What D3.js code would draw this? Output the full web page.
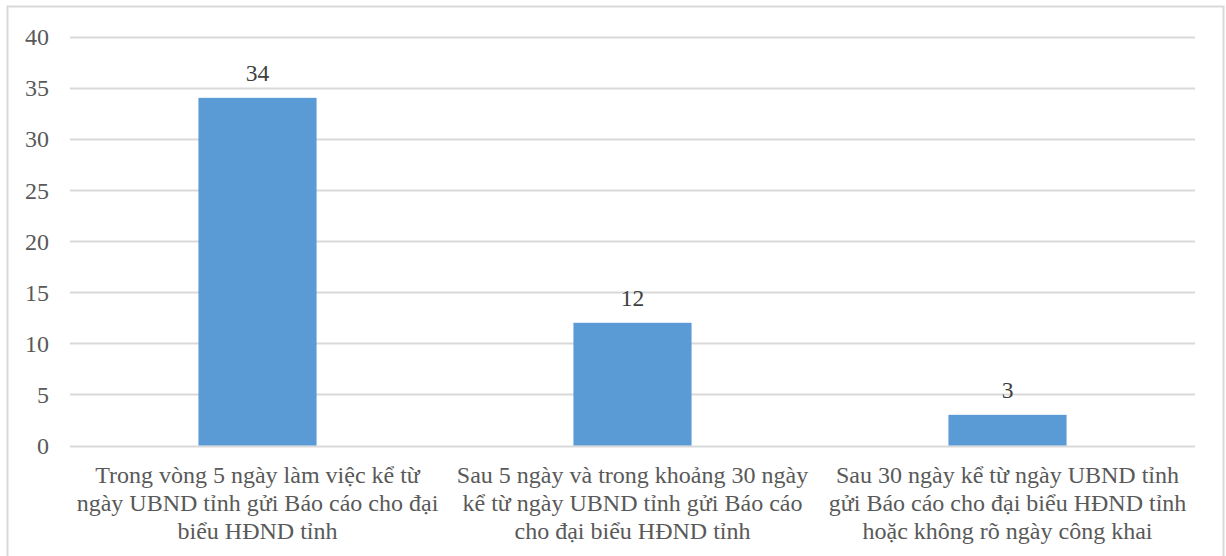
<!DOCTYPE html>
<html><head><meta charset="utf-8">
<script src="https://cdn.jsdelivr.net/npm/d3@7"></script>
<style>body{margin:0;background:#fff}svg{display:block}</style>
</head><body>
<script>
const categories = [
  ["Trong vòng 5 ngày làm việc kể từ", "ngày UBND tỉnh gửi Báo cáo cho đại", "biểu HĐND tỉnh"],
  ["Sau 5 ngày và trong khoảng 30 ngày", "kể từ ngày UBND tỉnh gửi Báo cáo", "cho đại biểu HĐND tỉnh"],
  ["Sau 30 ngày kể từ ngày UBND tỉnh", "gửi Báo cáo cho đại biểu HĐND tỉnh", "hoặc không rõ ngày công khai"]
];
const values = [34, 12, 3];
const yTicks = [0, 5, 10, 15, 20, 25, 30, 35, 40];

const W = 1226, H = 556;
const font = "'Liberation Serif','Times New Roman',serif";
const textColor = "#595959";
const svg = d3.select("body").append("svg").attr("width", W).attr("height", H);

svg.append("rect").attr("x", 7.5).attr("y", 6.5).attr("width", 1216).attr("height", 560)
  .attr("fill", "none").attr("stroke", "#d9d9d9").attr("stroke-width", 2);

const x0 = 70, x1 = 1195, y0 = 445.5, y1 = 36.5;
const x = d3.scaleBand().domain(d3.range(values.length)).range([x0, x1])
  .paddingInner(0.685).paddingOuter(0.3425);
const y = d3.scaleLinear().domain([0, 40]).range([y0, y1]);

const g = svg.append("g");
g.selectAll("line.grid").data(yTicks).join("line").attr("class", "grid")
  .attr("x1", x0).attr("x2", x1).attr("y1", d => Math.round(y(d)) + 0.5).attr("y2", d => Math.round(y(d)) + 0.5)
  .attr("stroke", "#d9d9d9").attr("stroke-width", 2);

const yAxis = d3.axisLeft(y).tickValues(yTicks).tickSize(0).tickPadding(0);
const ya = svg.append("g").attr("transform", "translate(49,0)").call(yAxis);
ya.select(".domain").remove();
ya.selectAll("text").attr("font-family", font).attr("font-size", 24).attr("fill", textColor).attr("dy", "0.34em");

g.selectAll("rect.bar").data(values).join("rect").attr("class", "bar")
  .attr("x", (d, i) => x(i)).attr("width", x.bandwidth())
  .attr("y", d => y(d)).attr("height", d => y(0) - y(d))
  .attr("fill", "#5B9BD5");

g.selectAll("text.val").data(values).join("text").attr("class", "val")
  .attr("x", (d, i) => x(i) + x.bandwidth() / 2).attr("y", d => y(d) - 17)
  .attr("text-anchor", "middle").attr("font-family", font).attr("font-size", 23.5).attr("fill", "#404040")
  .text(d => d);

const xAxis = d3.axisBottom(x).tickSize(0).tickFormat("");
const xa = svg.append("g").attr("transform", `translate(0,${y0})`).call(xAxis);
xa.select(".domain").remove();
xa.selectAll(".tick").each(function(d) {
  const t = d3.select(this).append("text").attr("text-anchor", "middle")
    .attr("font-family", font).attr("font-size", 24).attr("fill", textColor);
  categories[d].forEach((line, k) => {
    t.append("tspan").attr("x", 0).attr("y", 37.5 + k * 28).text(line);
  });
});
</script>
</body></html>
